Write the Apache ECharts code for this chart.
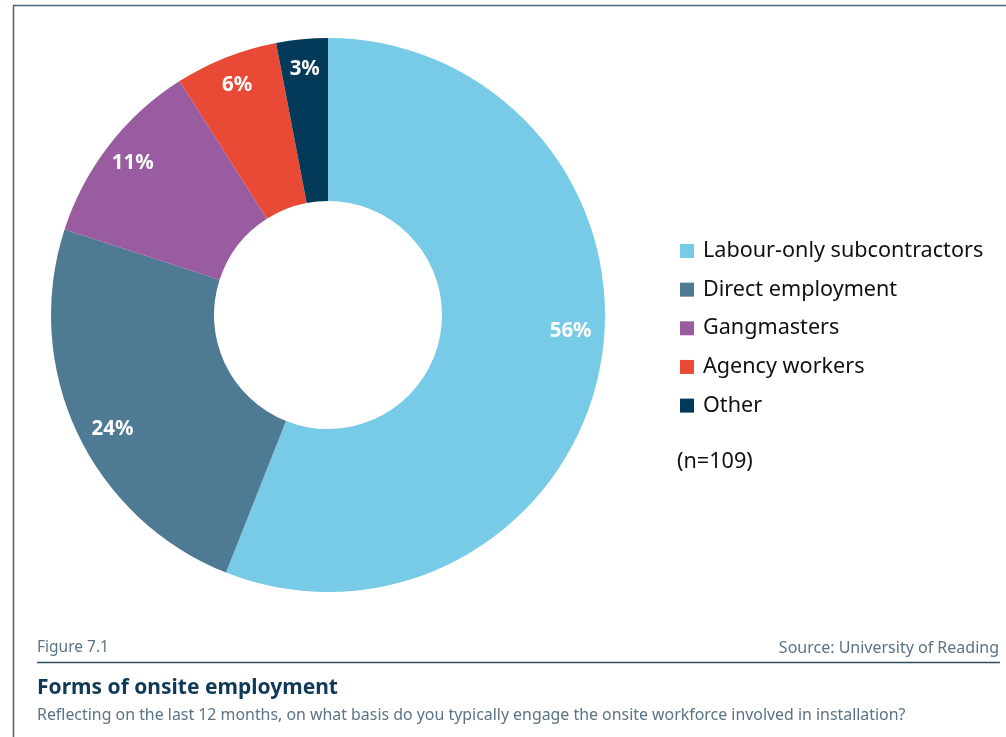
<!DOCTYPE html>
<html>
<head>
<meta charset="utf-8">
<title>Forms of onsite employment</title>
<script src="https://cdn.jsdelivr.net/npm/echarts@6/dist/echarts.min.js"></script>
<style>
  html, body { margin: 0; padding: 0; background: #ffffff; }
  #chart { width: 1006px; height: 737px; }
</style>
</head>
<body>
<div id="chart"></div>
<script>
// Survey categories and their shares (%)
const categories = ['Labour-only subcontractors', 'Direct employment', 'Gangmasters', 'Agency workers', 'Other'];
const shares = [56, 24, 11, 6, 3];
const sliceColors = ['#77CBE6', '#4F7A93', '#9A5CA0', '#E84A36', '#033A59'];
const sampleNote = '(n=109)';

const figureLabel = 'Figure 7.1';
const sourceLabel = 'Source: University of Reading';
const titleText = 'Forms of onsite employment';
const subtitleText = 'Reflecting on the last 12 months, on what basis do you typically engage the onsite workforce involved in installation?';

const frameColor = '#46647C';
const footFont = '"Noto Sans", sans-serif';
const chartFont = '"Noto Sans", sans-serif';

const chart = echarts.init(document.getElementById('chart'), null, { renderer: 'canvas' });

const center = [328, 315];

// per-slice nudges of the percentage labels (line-height trick shifts them vertically)
const labelTweaks = {
  0: { formatter: '{c}%\n ', lineHeight: 60 },
  1: { formatter: ' \n   {c}%', lineHeight: 18 }
};

const option = {
  animation: false,
  textStyle: { fontFamily: chartFont },
  legend: {
    orient: 'vertical',
    left: 680,
    top: 240,
    padding: 0,
    icon: 'rect',
    itemWidth: 14,
    itemHeight: 14,
    itemGap: 16.65,
    selectedMode: false,
    data: categories,
    textStyle: { fontSize: 21.6, color: '#111111', fontFamily: chartFont, lineHeight: 20, padding: [0, 0, 0, 4] }
  },
  series: [
    {
      // coloured donut
      type: 'pie',
      center: center,
      radius: [114, 277],
      startAngle: 90,
      clockwise: true,
      silent: true,
      label: { show: false },
      labelLine: { show: false },
      itemStyle: { borderWidth: 0 },
      data: categories.map((name, i) => ({ name: name, value: shares[i], itemStyle: { color: sliceColors[i] } }))
    },
    {
      // transparent ring that carries the percentage labels near the outer edge
      type: 'pie',
      center: center,
      radius: [230, 258],
      startAngle: 90,
      clockwise: true,
      silent: true,
      itemStyle: { color: 'rgba(0,0,0,0)', borderWidth: 0 },
      label: {
        show: true,
        position: 'inside',
        formatter: '{c}%',
        color: '#ffffff',
        fontSize: 20.5,
        fontWeight: 'bold',
        fontFamily: chartFont
      },
      labelLine: { show: false },
      data: shares.map((v, i) => labelTweaks[i] ? { value: v, label: labelTweaks[i] } : { value: v })
    }
  ],
  graphic: [
    // frame: top and left rules
    { type: 'line', shape: { x1: 13, y1: 5.5, x2: 1006, y2: 5.5 }, style: { stroke: frameColor, lineWidth: 1.5 } },
    { type: 'line', shape: { x1: 13.5, y1: 5, x2: 13.5, y2: 737 }, style: { stroke: frameColor, lineWidth: 1.5 } },
    // sample size note
    { type: 'text', left: 677, top: 451, style: { text: sampleNote, fontSize: 21.6, fontFamily: chartFont, fill: '#111111' } },
    // footer
    { type: 'text', left: 37, top: 640, style: { text: figureLabel, fontSize: 15.5, fontFamily: footFont, fill: '#5B7386' } },
    { type: 'text', right: 7, top: 640, style: { text: sourceLabel, fontSize: 16, fontFamily: footFont, fill: '#5B7386' } },
    { type: 'line', shape: { x1: 37, y1: 662.5, x2: 1000, y2: 662.5 }, style: { stroke: '#2E4E64', lineWidth: 1.5 } },
    { type: 'text', left: 37, top: 678, style: { text: titleText, fontSize: 21, fontWeight: 'bold', fontFamily: footFont, fill: '#0F3A55' } },
    { type: 'text', left: 37, top: 707, style: { text: subtitleText, fontSize: 15.9, fontFamily: footFont, fill: '#5B7386' } }
  ]
};

chart.setOption(option);
</script>
</body>
</html>
